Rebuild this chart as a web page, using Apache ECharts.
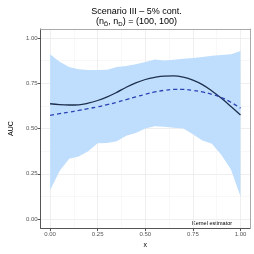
<!DOCTYPE html>
<html>
<head>
<meta charset="utf-8">
<script src="https://cdn.jsdelivr.net/npm/echarts@6/dist/echarts.min.js"></script>
<style>html,body{margin:0;padding:0;background:#fff;}#c{width:254px;height:254px;}</style>
</head>
<body>
<div id="c"></div>
<script>
const xs = [0,0.05,0.1,0.15,0.2,0.25,0.3,0.35,0.4,0.45,0.5,0.55,0.6,0.65,0.7,0.75,0.8,0.85,0.9,0.95,1.0];
const upperBand = [0.911,0.869,0.840,0.828,0.823,0.823,0.825,0.840,0.845,0.855,0.867,0.881,0.876,0.880,0.885,0.890,0.895,0.902,0.906,0.911,0.929];
const lowerBand = [0.159,0.265,0.333,0.345,0.375,0.419,0.420,0.430,0.460,0.475,0.500,0.513,0.510,0.504,0.500,0.469,0.434,0.416,0.354,0.274,0.124];
const kernelAUC = [0.637,0.632,0.630,0.631,0.640,0.655,0.675,0.700,0.728,0.752,0.771,0.783,0.790,0.791,0.784,0.768,0.743,0.708,0.667,0.622,0.575];
const trueAUC = [0.573,0.582,0.591,0.600,0.610,0.620,0.632,0.645,0.660,0.675,0.689,0.702,0.711,0.716,0.716,0.711,0.702,0.689,0.671,0.645,0.613];
const majorTicks = [0,0.25,0.5,0.75,1];
const minorTicks = [0.125,0.375,0.625,0.875];

const chart = echarts.init(document.getElementById('c'), null, {renderer:'canvas'});
const pairs = a => xs.map((x,i)=>[x,a[i]]);
const bandData = xs.map((x,i)=>[x,lowerBand[i],upperBand[i]]);
const FONT = 'Liberation Sans, Arial, sans-serif';
const lim = {min:-0.05, max:1.05};

const majorAxisX = {type:'value', ...lim, position:'bottom',
  axisLine:{show:true, onZero:false, lineStyle:{color:'#555', width:1}},
  axisTick:{show:true, length:3, customValues:majorTicks, lineStyle:{color:'#555'}},
  axisLabel:{customValues:majorTicks, formatter:v=>v.toFixed(2), fontSize:6, color:'#555', margin:3, fontFamily:FONT},
  splitLine:{show:true, lineStyle:{color:'#ebebeb', width:0.8}},
  name:'x', nameLocation:'middle', nameGap:13, nameTextStyle:{fontSize:7, color:'#000', fontFamily:FONT}};
const minorAxisX = {type:'value', ...lim, position:'bottom',
  axisLine:{show:false}, axisTick:{show:false, customValues:minorTicks}, axisLabel:{show:false},
  splitLine:{show:true, lineStyle:{color:'#f3f3f3', width:0.6}}};
const topAxisX = {type:'value', ...lim, position:'top',
  axisLine:{show:true, onZero:false, lineStyle:{color:'#aaa', width:1}}, axisTick:{show:false}, axisLabel:{show:false}, splitLine:{show:false}};

const majorAxisY = {type:'value', ...lim, position:'left',
  axisLine:{show:true, onZero:false, lineStyle:{color:'#555', width:1}},
  axisTick:{show:true, length:3, customValues:majorTicks, lineStyle:{color:'#555'}},
  axisLabel:{customValues:majorTicks, formatter:v=>v.toFixed(2), fontSize:6, color:'#555', margin:3, fontFamily:FONT},
  splitLine:{show:true, lineStyle:{color:'#ebebeb', width:0.8}},
  name:'AUC', nameLocation:'middle', nameGap:22, nameRotate:90, nameTextStyle:{fontSize:7, color:'#000', fontFamily:FONT}};
const minorAxisY = {type:'value', ...lim, position:'left',
  axisLine:{show:false}, axisTick:{show:false, customValues:minorTicks}, axisLabel:{show:false},
  splitLine:{show:true, lineStyle:{color:'#f3f3f3', width:0.6}}};
const rightAxisY = {type:'value', ...lim, position:'right',
  axisLine:{show:true, onZero:false, lineStyle:{color:'#aaa', width:1}}, axisTick:{show:false}, axisLabel:{show:false}, splitLine:{show:false}};

chart.setOption({
  animation:false,
  backgroundColor:'#fff',
  title:[
    {text:'Scenario III – 5% cont.', left:131.5, top:2, textAlign:'center',
     textStyle:{fontSize:9, fontWeight:'normal', color:'#000', fontFamily:FONT}},
    {text:'(n{s|D̄}, n{s|D}) = (100, 100)', left:131.5, top:12, textAlign:'center',
     textStyle:{fontSize:9, fontWeight:'normal', color:'#000', fontFamily:FONT,
       rich:{s:{fontSize:6, verticalAlign:'bottom', padding:[4,0,0,0], color:'#000', fontFamily:FONT}}}}
  ],
  grid:{left:25, top:29, width:225, height:206, containLabel:false},
  xAxis:[majorAxisX, minorAxisX, topAxisX],
  yAxis:[majorAxisY, minorAxisY, rightAxisY],
  series:[
    {type:'custom', data:bandData, silent:true, z:1,
     encode:{x:0, y:[1,2]},
     renderItem:function(params, api){
       if (params.dataIndex !== 0) return null;
       const top = bandData.map(d=>api.coord([d[0], d[2]]));
       const bot = bandData.slice().reverse().map(d=>api.coord([d[0], d[1]]));
       return {type:'polygon', shape:{points:top.concat(bot)}, style:{fill:'#bfdefd', stroke:'none'}};
     }},
    {type:'line', data:pairs(kernelAUC), symbol:'none', smooth:0.4, z:3, lineStyle:{color:'#1e2f4e', width:1.3}},
    {type:'line', data:pairs(trueAUC), symbol:'none', smooth:0.4, z:3, lineStyle:{color:'#2a42b4', width:1.3, type:[4,3]}}
  ],
  graphic:[
    {type:'text', left:192, top:220, style:{text:'Kernel estimator', fontSize:5.5, fill:'#000', fontFamily:FONT}}
  ]
});
</script>
</body>
</html>
